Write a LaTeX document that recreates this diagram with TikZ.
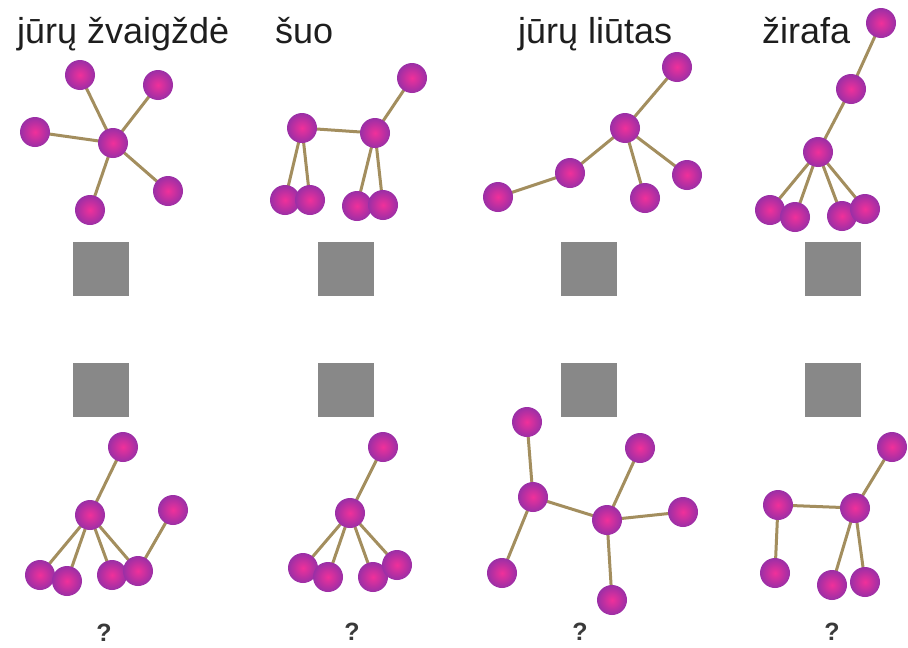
\documentclass[tikz,border=0pt]{standalone}
\usepackage{fontspec}
\setmainfont{Liberation Sans}
\usetikzlibrary{backgrounds}
\begin{document}
\begin{tikzpicture}[x=1pt,y=-1pt,
  ball/.style={circle,minimum size=30pt,inner sep=0pt,
    shading=radial,inner color=ballin,outer color=ballout},
  bond/.style={draw=bondcol,line width=3pt},
  title/.style={anchor=base west,inner sep=0pt,text=txtcol,
    font=\fontsize{36}{40}\selectfont},
  quest/.style={inner sep=0pt,text=qcol,font=\fontsize{25}{30}\selectfont\bfseries},
  tile/.style={fill=tilegray,draw=none}]
\definecolor{ballin}{HTML}{F0309A}
\definecolor{ballout}{HTML}{9A2FA6}
\definecolor{bondcol}{HTML}{A38E5E}
\definecolor{txtcol}{HTML}{1E1E1E}
\definecolor{qcol}{HTML}{3A3A3A}
\definecolor{tilegray}{HTML}{888888}
\useasboundingbox (0,0) rectangle (908,648);

% titles
\node[title] (t1) at (17,43) {jūrų žvaigždė};
\node[title] (t2) at (275,43) {šuo};
\node[title] (t3) at (518,43) {jūrų liūtas};
\node[title] (t4) at (762,43) {žirafa};

% grey tiles
\foreach \x in {73,318,561,805}{
  \path[tile] (\x,242) rectangle ++(56,54);
  \path[tile] (\x,363) rectangle ++(56,54);
}

% ---- top row ----
% starfish
\node[ball] (a0) at (113,143) {};
\node[ball] (a1) at (80,75) {};
\node[ball] (a2) at (158,85) {};
\node[ball] (a3) at (35,132) {};
\node[ball] (a4) at (168,191) {};
\node[ball] (a5) at (90,210) {};

% dog
\node[ball] (b1) at (412,78) {};
\node[ball] (b2) at (302,128) {};
\node[ball] (b3) at (375,133) {};
\node[ball] (b4) at (285,200) {};
\node[ball] (b5) at (310,200) {};
\node[ball] (b6) at (357,206) {};
\node[ball] (b7) at (383,205) {};

% sea lion
\node[ball] (c1) at (677,67) {};
\node[ball] (c2) at (625,128) {};
\node[ball] (c3) at (570,173) {};
\node[ball] (c4) at (498,197) {};
\node[ball] (c5) at (645,198) {};
\node[ball] (c6) at (687,175) {};

% giraffe
\node[ball] (d1) at (881,23) {};
\node[ball] (d2) at (851,89) {};
\node[ball] (d3) at (818,152) {};
\node[ball] (d4) at (770,210) {};
\node[ball] (d5) at (795,217) {};
\node[ball] (d6) at (842,216) {};
\node[ball] (d7) at (865,209) {};

% ---- bottom row ----
\node[ball] (e1) at (123,447) {};
\node[ball] (e2) at (90,515) {};
\node[ball] (e3) at (173,510) {};
\node[ball] (e4) at (40,575) {};
\node[ball] (e5) at (67,581) {};
\node[ball] (e6) at (112,575) {};
\node[ball] (e7) at (138,571) {};

\node[ball] (f1) at (383,447) {};
\node[ball] (f2) at (350,513) {};
\node[ball] (f3) at (303,568) {};
\node[ball] (f4) at (328,577) {};
\node[ball] (f5) at (373,577) {};
\node[ball] (f6) at (397,565) {};

\node[ball] (g1) at (527,422) {};
\node[ball] (g2) at (533,497) {};
\node[ball] (g3) at (502,573) {};
\node[ball] (g4) at (607,520) {};
\node[ball] (g5) at (640,448) {};
\node[ball] (g6) at (683,512) {};
\node[ball] (g7) at (612,600) {};

\node[ball] (h1) at (892,447) {};
\node[ball] (h2) at (855,508) {};
\node[ball] (h3) at (778,505) {};
\node[ball] (h4) at (775,573) {};
\node[ball] (h5) at (832,585) {};
\node[ball] (h6) at (865,582) {};

% question marks
\node[quest] (q1) at (104,633) {?};
\node[quest] (q2) at (352,632) {?};
\node[quest] (q3) at (580,632) {?};
\node[quest] (q4) at (832,632) {?};

% bonds sit behind the balls
\begin{scope}[on background layer]
\fill[white] (0,0) rectangle (908,648);
\foreach \u/\v in {a0/a1,a0/a2,a0/a3,a0/a4,a0/a5,
  b1/b3,b2/b3,b2/b4,b2/b5,b3/b6,b3/b7,
  c1/c2,c2/c3,c3/c4,c2/c5,c2/c6,
  d1/d2,d2/d3,d3/d4,d3/d5,d3/d6,d3/d7,
  e1/e2,e2/e4,e2/e5,e2/e6,e2/e7,e7/e3,
  f1/f2,f2/f3,f2/f4,f2/f5,f2/f6,
  g1/g2,g2/g3,g2/g4,g4/g5,g4/g6,g4/g7,
  h1/h2,h2/h3,h3/h4,h2/h5,h2/h6}
  \draw[bond] (\u.center) -- (\v.center);
\end{scope}
\end{tikzpicture}
\end{document}
